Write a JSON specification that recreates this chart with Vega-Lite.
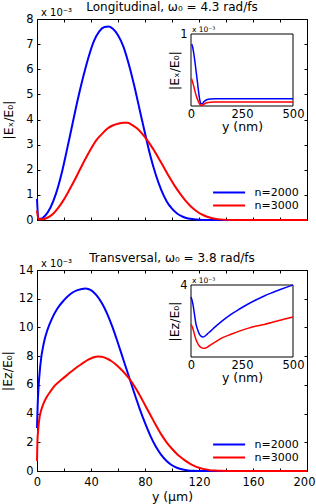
{
"$schema":"https://vega.github.io/schema/vega-lite/v6.json",
"background":"white",
"padding":{"left":0,"top":0,"right":0,"bottom":0},
"spacing":25,
"datasets":{
"topMain":[
{"y":0,"E":0.84,"n":"n=2000"},{"y":1,"E":0.06,"n":"n=2000"},{"y":3,"E":0.05,"n":"n=2000"},{"y":6,"E":0.17,"n":"n=2000"},{"y":10,"E":0.5,"n":"n=2000"},{"y":14,"E":1.04,"n":"n=2000"},{"y":18,"E":1.8,"n":"n=2000"},{"y":22,"E":2.75,"n":"n=2000"},{"y":26,"E":3.75,"n":"n=2000"},{"y":30,"E":4.75,"n":"n=2000"},{"y":34,"E":5.65,"n":"n=2000"},{"y":38,"E":6.45,"n":"n=2000"},{"y":42,"E":7.1,"n":"n=2000"},{"y":46,"E":7.5,"n":"n=2000"},{"y":50,"E":7.68,"n":"n=2000"},{"y":53,"E":7.7,"n":"n=2000"},{"y":56,"E":7.62,"n":"n=2000"},{"y":60,"E":7.35,"n":"n=2000"},{"y":64,"E":6.9,"n":"n=2000"},{"y":68,"E":6.2,"n":"n=2000"},{"y":72,"E":5.35,"n":"n=2000"},{"y":76,"E":4.4,"n":"n=2000"},{"y":80,"E":3.45,"n":"n=2000"},{"y":84,"E":2.55,"n":"n=2000"},{"y":88,"E":1.8,"n":"n=2000"},{"y":92,"E":1.2,"n":"n=2000"},{"y":96,"E":0.75,"n":"n=2000"},{"y":100,"E":0.45,"n":"n=2000"},{"y":104,"E":0.25,"n":"n=2000"},{"y":108,"E":0.13,"n":"n=2000"},{"y":112,"E":0.06,"n":"n=2000"},{"y":116,"E":0.03,"n":"n=2000"},{"y":120,"E":0.01,"n":"n=2000"},{"y":126,"E":0,"n":"n=2000"},{"y":200,"E":0,"n":"n=2000"},
{"y":0,"E":0.37,"n":"n=3000"},{"y":1,"E":0.03,"n":"n=3000"},{"y":4,"E":0.03,"n":"n=3000"},{"y":8,"E":0.1,"n":"n=3000"},{"y":12,"E":0.25,"n":"n=3000"},{"y":16,"E":0.5,"n":"n=3000"},{"y":20,"E":0.82,"n":"n=3000"},{"y":24,"E":1.2,"n":"n=3000"},{"y":28,"E":1.6,"n":"n=3000"},{"y":32,"E":2.03,"n":"n=3000"},{"y":36,"E":2.45,"n":"n=3000"},{"y":40,"E":2.84,"n":"n=3000"},{"y":44,"E":3.18,"n":"n=3000"},{"y":48,"E":3.42,"n":"n=3000"},{"y":52,"E":3.63,"n":"n=3000"},{"y":56,"E":3.76,"n":"n=3000"},{"y":60,"E":3.83,"n":"n=3000"},{"y":64,"E":3.87,"n":"n=3000"},{"y":67,"E":3.87,"n":"n=3000"},{"y":70,"E":3.8,"n":"n=3000"},{"y":74,"E":3.65,"n":"n=3000"},{"y":78,"E":3.43,"n":"n=3000"},{"y":82,"E":3.15,"n":"n=3000"},{"y":86,"E":2.83,"n":"n=3000"},{"y":90,"E":2.47,"n":"n=3000"},{"y":94,"E":2.09,"n":"n=3000"},{"y":98,"E":1.71,"n":"n=3000"},{"y":102,"E":1.36,"n":"n=3000"},{"y":106,"E":1.05,"n":"n=3000"},{"y":110,"E":0.77,"n":"n=3000"},{"y":114,"E":0.54,"n":"n=3000"},{"y":118,"E":0.36,"n":"n=3000"},{"y":122,"E":0.22,"n":"n=3000"},{"y":126,"E":0.13,"n":"n=3000"},{"y":130,"E":0.07,"n":"n=3000"},{"y":134,"E":0.035,"n":"n=3000"},{"y":138,"E":0.015,"n":"n=3000"},{"y":144,"E":0,"n":"n=3000"},{"y":200,"E":0,"n":"n=3000"}
],
"botMain":[
{"y":0,"E":3.0,"n":"n=2000"},{"y":0.5,"E":4.6,"n":"n=2000"},{"y":1,"E":5.6,"n":"n=2000"},{"y":2.5,"E":7.4,"n":"n=2000"},{"y":5,"E":8.9,"n":"n=2000"},{"y":8,"E":9.9,"n":"n=2000"},{"y":11,"E":10.6,"n":"n=2000"},{"y":15,"E":11.3,"n":"n=2000"},{"y":20,"E":11.9,"n":"n=2000"},{"y":25,"E":12.35,"n":"n=2000"},{"y":30,"E":12.6,"n":"n=2000"},{"y":36,"E":12.72,"n":"n=2000"},{"y":40,"E":12.6,"n":"n=2000"},{"y":44,"E":12.25,"n":"n=2000"},{"y":48,"E":11.7,"n":"n=2000"},{"y":52,"E":10.95,"n":"n=2000"},{"y":56,"E":10.0,"n":"n=2000"},{"y":60,"E":8.9,"n":"n=2000"},{"y":64,"E":7.75,"n":"n=2000"},{"y":68,"E":6.6,"n":"n=2000"},{"y":72,"E":5.45,"n":"n=2000"},{"y":76,"E":4.35,"n":"n=2000"},{"y":80,"E":3.35,"n":"n=2000"},{"y":84,"E":2.45,"n":"n=2000"},{"y":88,"E":1.7,"n":"n=2000"},{"y":92,"E":1.12,"n":"n=2000"},{"y":96,"E":0.7,"n":"n=2000"},{"y":100,"E":0.4,"n":"n=2000"},{"y":104,"E":0.21,"n":"n=2000"},{"y":108,"E":0.1,"n":"n=2000"},{"y":112,"E":0.04,"n":"n=2000"},{"y":116,"E":0.015,"n":"n=2000"},{"y":122,"E":0,"n":"n=2000"},{"y":200,"E":0,"n":"n=2000"},
{"y":0,"E":0.7,"n":"n=3000"},{"y":0.3,"E":2.0,"n":"n=3000"},{"y":1,"E":3.0,"n":"n=3000"},{"y":2,"E":3.8,"n":"n=3000"},{"y":3,"E":4.2,"n":"n=3000"},{"y":5,"E":4.75,"n":"n=3000"},{"y":7,"E":5.12,"n":"n=3000"},{"y":10,"E":5.55,"n":"n=3000"},{"y":13,"E":5.93,"n":"n=3000"},{"y":18,"E":6.35,"n":"n=3000"},{"y":23,"E":6.74,"n":"n=3000"},{"y":28,"E":7.12,"n":"n=3000"},{"y":33,"E":7.45,"n":"n=3000"},{"y":38,"E":7.75,"n":"n=3000"},{"y":42,"E":7.92,"n":"n=3000"},{"y":45,"E":7.98,"n":"n=3000"},{"y":48,"E":7.96,"n":"n=3000"},{"y":52,"E":7.82,"n":"n=3000"},{"y":55,"E":7.66,"n":"n=3000"},{"y":58,"E":7.45,"n":"n=3000"},{"y":62,"E":7.1,"n":"n=3000"},{"y":66,"E":6.7,"n":"n=3000"},{"y":70,"E":6.22,"n":"n=3000"},{"y":74,"E":5.62,"n":"n=3000"},{"y":77,"E":5.12,"n":"n=3000"},{"y":80,"E":4.6,"n":"n=3000"},{"y":84,"E":3.9,"n":"n=3000"},{"y":88,"E":3.2,"n":"n=3000"},{"y":92,"E":2.55,"n":"n=3000"},{"y":96,"E":2.0,"n":"n=3000"},{"y":100,"E":1.55,"n":"n=3000"},{"y":104,"E":1.15,"n":"n=3000"},{"y":108,"E":0.85,"n":"n=3000"},{"y":112,"E":0.58,"n":"n=3000"},{"y":116,"E":0.38,"n":"n=3000"},{"y":120,"E":0.23,"n":"n=3000"},{"y":124,"E":0.13,"n":"n=3000"},{"y":128,"E":0.06,"n":"n=3000"},{"y":132,"E":0.03,"n":"n=3000"},{"y":136,"E":0.01,"n":"n=3000"},{"y":142,"E":0,"n":"n=3000"},{"y":200,"E":0,"n":"n=3000"}
],
"topInset":[
{"y":3,"E":0.86,"n":"n=2000"},{"y":8,"E":0.82,"n":"n=2000"},{"y":14,"E":0.72,"n":"n=2000"},{"y":20,"E":0.6,"n":"n=2000"},{"y":26,"E":0.46,"n":"n=2000"},{"y":32,"E":0.32,"n":"n=2000"},{"y":38,"E":0.18,"n":"n=2000"},{"y":44,"E":0.07,"n":"n=2000"},{"y":50,"E":0.03,"n":"n=2000"},{"y":56,"E":0.03,"n":"n=2000"},{"y":62,"E":0.055,"n":"n=2000"},{"y":70,"E":0.075,"n":"n=2000"},{"y":80,"E":0.09,"n":"n=2000"},{"y":95,"E":0.097,"n":"n=2000"},{"y":120,"E":0.1,"n":"n=2000"},{"y":500,"E":0.1,"n":"n=2000"},
{"y":3,"E":0.38,"n":"n=3000"},{"y":8,"E":0.33,"n":"n=3000"},{"y":14,"E":0.27,"n":"n=3000"},{"y":20,"E":0.2,"n":"n=3000"},{"y":26,"E":0.14,"n":"n=3000"},{"y":32,"E":0.09,"n":"n=3000"},{"y":38,"E":0.05,"n":"n=3000"},{"y":44,"E":0.02,"n":"n=3000"},{"y":50,"E":0.01,"n":"n=3000"},{"y":56,"E":0.01,"n":"n=3000"},{"y":62,"E":0.02,"n":"n=3000"},{"y":72,"E":0.04,"n":"n=3000"},{"y":85,"E":0.05,"n":"n=3000"},{"y":110,"E":0.055,"n":"n=3000"},{"y":500,"E":0.055,"n":"n=3000"}
],
"botInset":[
{"y":0,"E":3.33,"n":"n=2000"},{"y":5,"E":3.15,"n":"n=2000"},{"y":10,"E":2.9,"n":"n=2000"},{"y":16,"E":2.45,"n":"n=2000"},{"y":24,"E":1.85,"n":"n=2000"},{"y":33,"E":1.5,"n":"n=2000"},{"y":41,"E":1.27,"n":"n=2000"},{"y":49,"E":1.16,"n":"n=2000"},{"y":57,"E":1.11,"n":"n=2000"},{"y":65,"E":1.13,"n":"n=2000"},{"y":82,"E":1.3,"n":"n=2000"},{"y":100,"E":1.48,"n":"n=2000"},{"y":114,"E":1.63,"n":"n=2000"},{"y":150,"E":1.98,"n":"n=2000"},{"y":196,"E":2.37,"n":"n=2000"},{"y":240,"E":2.68,"n":"n=2000"},{"y":278,"E":2.93,"n":"n=2000"},{"y":320,"E":3.18,"n":"n=2000"},{"y":359,"E":3.39,"n":"n=2000"},{"y":400,"E":3.58,"n":"n=2000"},{"y":441,"E":3.76,"n":"n=2000"},{"y":470,"E":3.88,"n":"n=2000"},{"y":500,"E":4.0,"n":"n=2000"},
{"y":0,"E":1.81,"n":"n=3000"},{"y":8,"E":1.63,"n":"n=3000"},{"y":16,"E":1.3,"n":"n=3000"},{"y":24,"E":0.98,"n":"n=3000"},{"y":33,"E":0.75,"n":"n=3000"},{"y":41,"E":0.61,"n":"n=3000"},{"y":50,"E":0.52,"n":"n=3000"},{"y":62,"E":0.48,"n":"n=3000"},{"y":72,"E":0.5,"n":"n=3000"},{"y":82,"E":0.56,"n":"n=3000"},{"y":100,"E":0.7,"n":"n=3000"},{"y":114,"E":0.8,"n":"n=3000"},{"y":150,"E":1.05,"n":"n=3000"},{"y":196,"E":1.26,"n":"n=3000"},{"y":240,"E":1.45,"n":"n=3000"},{"y":278,"E":1.59,"n":"n=3000"},{"y":320,"E":1.72,"n":"n=3000"},{"y":359,"E":1.81,"n":"n=3000"},{"y":400,"E":1.93,"n":"n=3000"},{"y":441,"E":2.06,"n":"n=3000"},{"y":470,"E":2.14,"n":"n=3000"},{"y":500,"E":2.22,"n":"n=3000"}
]
},
"vconcat":[
{
"title":{"text":"Longitudinal, ω₀ = 4.3 rad/fs","offset":-6,"frame":"group"},
"width":270,"height":201,
"resolve":{"scale":{"x":"independent","y":"independent"},"axis":{"x":"independent","y":"independent"}},
"layer":[
{"data":{"name":"topMain"},
 "mark":{"type":"line","strokeWidth":2,"interpolate":"monotone"},
 "encoding":{
  "x":{"field":"y","type":"quantitative","scale":{"domain":[0,200],"nice":false},"axis":{"orient":"bottom","values":[0,20,40,60,80,100,120,140,160,180,200],"labels":false,"domain":false,"title":null}},
  "y":{"field":"E","type":"quantitative","scale":{"domain":[0,8],"nice":false},"axis":{"orient":"left","values":[0,1,2,3,4,5,6,7,8],"domain":false,"title":"|Eₓ/E₀|","titlePadding":10}},
  "color":{"field":"n","type":"nominal","scale":{"domain":["n=2000","n=3000"],"range":["#0000ff","#ff0000"]},
   "legend":{"orient":"none","legendX":184.6,"legendY":166,"title":null,"symbolType":"M-2.5,0H2.5","symbolSize":164,"symbolStrokeWidth":2,"labelFontSize":11,"labelFont":"DejaVu Sans","labelColor":"black","labelOffset":18,"rowPadding":0,"padding":0}}
 }},
{"data":{"values":[{"y":0,"E":8,"t":"x 10⁻³"}]},
 "mark":{"type":"text","align":"left","baseline":"alphabetic","dx":4,"dy":-3,"fontSize":10,"font":"DejaVu Sans","color":"black"},
 "encoding":{
  "x":{"field":"y","type":"quantitative","scale":{"domain":[0,200],"nice":false},"axis":{"orient":"top","values":[0,20,40,60,80,100,120,140,160,180,200],"labels":false,"domain":false,"title":null}},
  "y":{"field":"E","type":"quantitative","scale":{"domain":[0,8],"nice":false},"axis":{"orient":"right","values":[0,1,2,3,4,5,6,7,8],"labels":false,"domain":false,"title":null}},
  "text":{"field":"t"}
 }},
{"data":{"values":[{"x0":0,"x1":500,"y0":0,"y1":1}]},
 "mark":{"type":"rect","fill":"white","stroke":"black","strokeWidth":1},
 "encoding":{
  "x":{"field":"x0","type":"quantitative","scale":{"domain":[0,500],"range":[154,256],"nice":false},"axis":{"orient":"bottom","offset":-114,"values":[0,250,500],"ticks":false,"tickSize":0,"domain":false,"labelPadding":2,"title":"y (nm)","titlePadding":1}},
  "x2":{"field":"x1"},
  "y":{"field":"y0","type":"quantitative","scale":{"domain":[0,1],"range":[87,15],"nice":false},"axis":{"orient":"left","offset":-154,"values":[1],"ticks":false,"tickSize":0,"domain":false,"labelPadding":4,"title":"|Eₓ/E₀|","titlePadding":-2}},
  "y2":{"field":"y1"}
 }},
{"data":{"name":"topInset"},
 "mark":{"type":"line","strokeWidth":1.5,"interpolate":"monotone"},
 "encoding":{
  "x":{"field":"y","type":"quantitative","scale":{"domain":[0,500],"range":[154,256],"nice":false},"axis":null},
  "y":{"field":"E","type":"quantitative","scale":{"domain":[0,1],"range":[87,15],"nice":false},"axis":null},
  "color":{"field":"n","type":"nominal","legend":null}
 }},
{"data":{"values":[{"y":0,"E":1,"t":"x 10⁻³"}]},
 "mark":{"type":"text","align":"left","baseline":"alphabetic","dx":1,"dy":-2,"fontSize":7.5,"font":"DejaVu Sans","color":"black"},
 "encoding":{
  "x":{"field":"y","type":"quantitative","scale":{"domain":[0,500],"range":[154,256],"nice":false},"axis":null},
  "y":{"field":"E","type":"quantitative","scale":{"domain":[0,1],"range":[87,15],"nice":false},"axis":null},
  "text":{"field":"t"}
 }}
]
},
{
"title":{"text":"Transversal, ω₀ = 3.8 rad/fs","offset":-6,"frame":"group"},
"width":270,"height":201,
"resolve":{"scale":{"x":"independent","y":"independent"},"axis":{"x":"independent","y":"independent"}},
"layer":[
{"data":{"name":"botMain"},
 "mark":{"type":"line","strokeWidth":2,"interpolate":"monotone"},
 "encoding":{
  "x":{"field":"y","type":"quantitative","scale":{"domain":[0,200],"nice":false},"axis":{"orient":"bottom","values":[0,20,40,60,80,100,120,140,160,180,200],"labelExpr":"datum.value % 40 === 0 ? datum.label : ''","labelOffset":{"condition":{"test":"datum.value === 200","value":-3},"value":0},"labelPadding":8,"domain":false,"title":"y (µm)","titlePadding":3}},
  "y":{"field":"E","type":"quantitative","scale":{"domain":[0,14],"nice":false},"axis":{"orient":"left","values":[0,2,4,6,8,10,12,14],"domain":false,"title":"|Eᴢ/E₀|","titlePadding":4}},
  "color":{"field":"n","type":"nominal","scale":{"domain":["n=2000","n=3000"],"range":["#0000ff","#ff0000"]},
   "legend":{"orient":"none","legendX":184.6,"legendY":167,"title":null,"symbolType":"M-2.5,0H2.5","symbolSize":164,"symbolStrokeWidth":2,"labelFontSize":11,"labelFont":"DejaVu Sans","labelColor":"black","labelOffset":18,"rowPadding":0,"padding":0}}
 }},
{"data":{"values":[{"y":0,"E":14,"t":"x 10⁻³"}]},
 "mark":{"type":"text","align":"left","baseline":"alphabetic","dx":4,"dy":-3,"fontSize":10,"font":"DejaVu Sans","color":"black"},
 "encoding":{
  "x":{"field":"y","type":"quantitative","scale":{"domain":[0,200],"nice":false},"axis":{"orient":"top","values":[0,20,40,60,80,100,120,140,160,180,200],"labels":false,"domain":false,"title":null}},
  "y":{"field":"E","type":"quantitative","scale":{"domain":[0,14],"nice":false},"axis":{"orient":"right","values":[0,2,4,6,8,10,12,14],"labels":false,"domain":false,"title":null}},
  "text":{"field":"t"}
 }},
{"data":{"values":[{"x0":0,"x1":500,"y0":0,"y1":4}]},
 "mark":{"type":"rect","fill":"white","stroke":"black","strokeWidth":1},
 "encoding":{
  "x":{"field":"x0","type":"quantitative","scale":{"domain":[0,500],"range":[154,256],"nice":false},"axis":{"orient":"bottom","offset":-114,"values":[0,250,500],"ticks":false,"tickSize":0,"domain":false,"labelPadding":2,"title":"y (nm)","titlePadding":1}},
  "x2":{"field":"x1"},
  "y":{"field":"y0","type":"quantitative","scale":{"domain":[0,4],"range":[87,15],"nice":false},"axis":{"orient":"left","offset":-154,"values":[4],"ticks":false,"tickSize":0,"domain":false,"labelPadding":4,"title":"|Eᴢ/E₀|","titlePadding":-2}},
  "y2":{"field":"y1"}
 }},
{"data":{"name":"botInset"},
 "mark":{"type":"line","strokeWidth":1.5,"interpolate":"monotone"},
 "encoding":{
  "x":{"field":"y","type":"quantitative","scale":{"domain":[0,500],"range":[154,256],"nice":false},"axis":null},
  "y":{"field":"E","type":"quantitative","scale":{"domain":[0,4],"range":[87,15],"nice":false},"axis":null},
  "color":{"field":"n","type":"nominal","legend":null}
 }},
{"data":{"values":[{"y":0,"E":4,"t":"x 10⁻³"}]},
 "mark":{"type":"text","align":"left","baseline":"alphabetic","dx":1,"dy":-2,"fontSize":7.5,"font":"DejaVu Sans","color":"black"},
 "encoding":{
  "x":{"field":"y","type":"quantitative","scale":{"domain":[0,500],"range":[154,256],"nice":false},"axis":null},
  "y":{"field":"E","type":"quantitative","scale":{"domain":[0,4],"range":[87,15],"nice":false},"axis":null},
  "text":{"field":"t"}
 }}
]
}
],
"resolve":{"scale":{"color":"independent"},"legend":{"color":"independent"}},
"config":{
 "font":"DejaVu Sans",
 "view":{"stroke":"black","strokeWidth":1},
 "title":{"font":"DejaVu Sans","fontSize":12,"fontWeight":"normal","color":"black","anchor":"middle"},
 "axis":{"labelFont":"DejaVu Sans","titleFont":"DejaVu Sans","labelFontSize":11.5,"titleFontSize":12.5,"titleFontWeight":"normal","labelColor":"black","titleColor":"black","tickColor":"black","domainColor":"black","grid":false,"labelFlush":false,"labelOverlap":false,"tickSize":-3,"labelPadding":7}
}
}
